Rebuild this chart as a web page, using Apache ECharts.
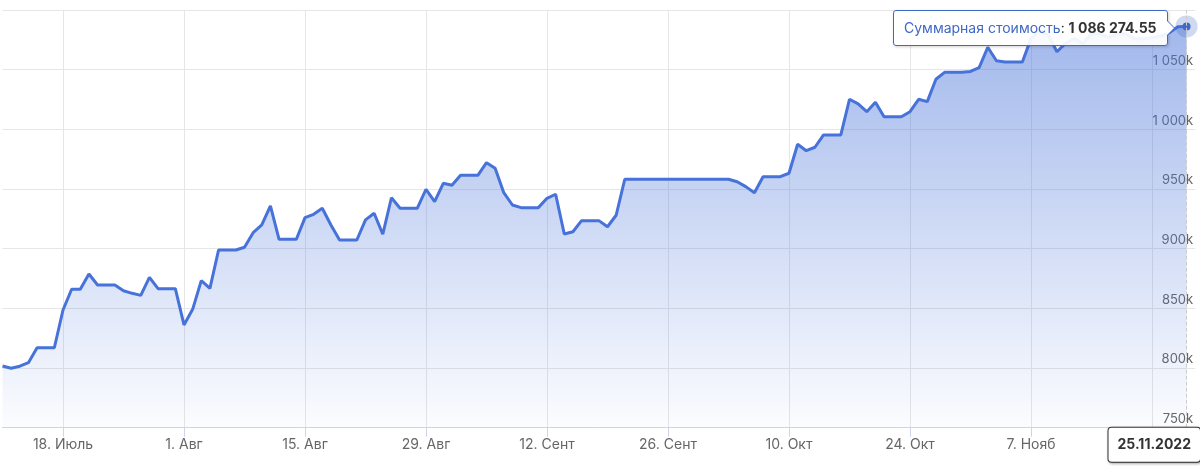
<!DOCTYPE html>
<html><head><meta charset="utf-8">
<script src="https://cdn.jsdelivr.net/npm/echarts@6/dist/echarts.min.js"></script>
<style>html,body{margin:0;padding:0;background:#fff}#c{width:1200px;height:470px}</style>
</head><body><div id="c"></div>
<script>
// ---- data ----
const startDate = '2022-07-11';
const axisDays = 139; // axis runs one day past the last value
const monthNames = ['Янв','Фев','Март','Апр','Май','Июнь','Июль','Авг','Сент','Окт','Нояб','Дек'];
const tickOffset = 7, tickEvery = 14;
const seriesName = 'Суммарная стоимость';
const values = [
  801700, 799800, 801500, 804500, 817000, 817000, 817000, 848600, 866000, 866000,
  878800, 869600, 869600, 869600, 864800, 862600, 860900, 876000, 866500, 866500,
  866500, 836100, 849200, 873200, 866800, 898900, 898900, 898900, 901200, 913400,
  919900, 935800, 907900, 907900, 907900, 926000, 928800, 933900, 919900, 907300,
  907300, 907300, 924100, 929700, 912100, 942700, 933900, 933900, 933900, 949800,
  939400, 954800, 953100, 961500, 961500, 961500, 972100, 967400, 946900, 936600,
  934400, 934400, 934400, 942200, 945600, 912300, 914200, 923500, 923500, 923500,
  918400, 928000, 958200, 958200, 958200, 958200, 958200, 958200, 958200, 958200,
  958200, 958200, 958200, 958200, 958200, 956100, 952000, 946900, 960300, 960300,
  960300, 963200, 987500, 982100, 985000, 995300, 995300, 995300, 1025200, 1021300,
  1014800, 1022700, 1010600, 1010600, 1010600, 1014800, 1025200, 1023200, 1042000, 1047800,
  1047800, 1047800, 1048500, 1051700, 1068800, 1057500, 1056500, 1056500, 1056500, 1076000,
  1083000, 1079000, 1065000, 1072000, 1076000, 1072000, 1080000, 1080000, 1077000, 1080000,
  1080000, 1076000, 1076000, 1077000, 1078000, 1081000, 1086000, 1086274.55
];
const yMin = 750000, yMax = 1100000, yStep = 50000;

// ---- helpers ----
const dates = [];
{
  const d0 = new Date(startDate + 'T00:00:00Z');
  for (let i = 0; i < axisDays; i++) {
    const d = new Date(d0.getTime() + i * 86400000);
    dates.push(d.toISOString().slice(0, 10));
  }
}
const isTick = (i) => (i - tickOffset) % tickEvery === 0 && i >= tickOffset;
function groupThousands(s) { return s.replace(/\B(?=(\d{3})+(?!\d))/g, ' '); }
function fmtY(v) { return groupThousands(String(Math.round(v / 1000))) + 'k'; }
function fmtMoney(v) {
  const p = v.toFixed(2).split('.');
  return groupThousands(p[0]) + '.' + p[1];
}
function fmtTick(s) {
  const [y, m, d] = s.split('-').map(Number);
  return d + '. ' + monthNames[m - 1];
}
function fmtFull(s) {
  const [y, m, d] = s.split('-');
  return d + '.' + m + '.' + y;
}

const FONT = 'Inter, "Liberation Sans", sans-serif';
const LINE = '#4068c6';
const lastIdx = values.length - 1;

const chart = echarts.init(document.getElementById('c'), null, { renderer: 'canvas' });
chart.setOption({
  animation: false,
  textStyle: { fontFamily: FONT },
  grid: { left: 2.5, right: 4.8, top: 10, bottom: 42.3, containLabel: false },
  xAxis: {
    type: 'category',
    data: dates,
    boundaryGap: false,
    axisLine: { lineStyle: { color: '#ccd6eb', width: 1 } },
    axisTick: { show: true, interval: (i) => isTick(i), length: 9, lineStyle: { color: '#ccd6eb' } },
    axisLabel: { interval: (i) => isTick(i), formatter: fmtTick, color: '#666666', fontSize: 14, margin: 10, fontFamily: FONT },
    splitLine: { show: true, interval: (i) => isTick(i), lineStyle: { color: '#e6e6e6', width: 1 } }
  },
  yAxis: {
    type: 'value',
    position: 'right',
    min: yMin, max: yMax, interval: yStep,
    axisLine: { show: false },
    axisTick: { show: false },
    axisLabel: {
      inside: true, margin: 2, formatter: fmtY, color: '#666666', fontSize: 13,
      verticalAlign: 'bottom', showMaxLabel: false, fontFamily: FONT, padding: [0, 0, 2, 0]
    },
    splitLine: { lineStyle: { color: '#e6e6e6', width: 1 } }
  },
  tooltip: {
    trigger: 'axis',
    triggerOn: 'none',
    alwaysShowContent: true,
    transitionDuration: 0,
    backgroundColor: 'rgba(255,255,255,0.92)',
    borderColor: LINE,
    borderWidth: 1,
    borderRadius: 3,
    padding: [7, 10],
    extraCssText: 'box-shadow:1px 1px 3px rgba(0,0,0,0.18);',
    textStyle: { fontFamily: FONT, fontSize: 14, color: '#333', lineHeight: 20 },
    position: function (point, params, dom, rect, size) {
      return [point[0] - size.contentSize[0] - 19, point[1] - size.contentSize[1] / 2 + 2];
    },
    formatter: function (params) {
      const p = params[0];
      return '<span style="position:absolute;right:-8px;top:50%;margin-top:-8px;width:0;height:0;border-top:8px solid transparent;border-bottom:8px solid transparent;border-left:8px solid ' + LINE + '"></span>' +
        '<span style="position:absolute;right:-7px;top:50%;margin-top:-7px;width:0;height:0;border-top:7px solid transparent;border-bottom:7px solid transparent;border-left:7px solid #fff"></span>' +
        '<span style="color:' + LINE + '">' + p.seriesName + '</span>: <b style="color:#333">' + fmtMoney(p.value) + '</b>';
    },
    axisPointer: {
      type: 'line',
      lineStyle: { color: '#cccccc', width: 1 },
      label: {
        show: true,
        formatter: (p) => fmtFull(p.value),
        backgroundColor: '#ffffff',
        borderColor: '#333333',
        borderWidth: 1,
        borderRadius: 3,
        color: '#333333',
        fontWeight: 'bold',
        fontSize: 14,
        fontFamily: FONT,
        padding: [10, 9, 10, 9],
        margin: 0,
        shadowBlur: 3,
        shadowColor: 'rgba(0,0,0,0.3)',
        shadowOffsetX: 1,
        shadowOffsetY: 1
      }
    }
  },
  series: [{
    name: seriesName,
    type: 'line',
    data: values,
    symbol: 'none',
    lineStyle: { color: LINE, width: 3 },
    itemStyle: { color: LINE },
    areaStyle: {
      opacity: 1,
      color: new echarts.graphic.LinearGradient(0, 10, 0, 428, [
        { offset: 0, color: 'rgba(64,104,198,0.52)' },
        { offset: 1, color: 'rgba(64,104,198,0.02)' }
      ], true)
    },
    markPoint: {
      silent: true,
      symbol: 'circle',
      label: { show: false },
      data: [
        { coord: [lastIdx, values[lastIdx]], symbolSize: 22, itemStyle: { color: 'rgba(64,104,198,0.25)' } },
        { coord: [lastIdx, values[lastIdx]], symbolSize: 8, itemStyle: { color: LINE } }
      ]
    }
  }]
});
chart.dispatchAction({ type: 'showTip', seriesIndex: 0, dataIndex: lastIdx });
</script>
</body></html>
